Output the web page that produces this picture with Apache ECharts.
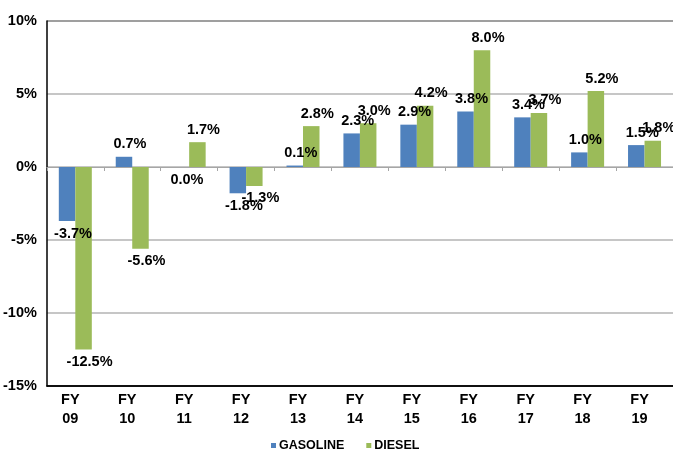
<!DOCTYPE html>
<html>
<head>
<meta charset="utf-8">
<script src="https://cdn.jsdelivr.net/npm/echarts@6/dist/echarts.min.js"></script>
<style>
  html, body { margin: 0; padding: 0; background: #fff; }
  #main { width: 673px; height: 459px; }
</style>
</head>
<body>
<div id="main"></div>
<script>
var years = ['FY\n09', 'FY\n10', 'FY\n11', 'FY\n12', 'FY\n13', 'FY\n14', 'FY\n15', 'FY\n16', 'FY\n17', 'FY\n18', 'FY\n19'];
var gasoline = [-3.7, 0.7, 0.0, -1.8, 0.1, 2.3, 2.9, 3.8, 3.4, 1.0, 1.5];
var diesel = [-12.5, -5.6, 1.7, -1.3, 2.8, 3.0, 4.2, 8.0, 3.7, 5.2, 1.8];
var yTicks = { min: -15, max: 10, step: 5 };

var FONT = '"Liberation Sans", Arial, sans-serif';

// label above positive bars, below negative (and the 0.0 one)
function withLabels(arr) {
  return arr.map(function (v) {
    return { value: v, label: { position: v <= 0 ? 'bottom' : 'top' } };
  });
}

var barLabel = {
  show: true,
  distance: 5,
  offset: [6, 0],
  fontFamily: FONT,
  fontWeight: 'bold',
  fontSize: 14.5,
  color: '#000',
  formatter: function (p) { return p.value.toFixed(1) + '%'; }
};

var option = {
  animation: false,
  grid: { left: 46, right: 0, top: 21, bottom: 73 },
  legend: {
    bottom: 2,
    left: 266,
    icon: 'rect',
    itemWidth: 5,
    itemHeight: 5,
    itemGap: 22,
    textStyle: { fontFamily: FONT, fontWeight: 'bold', fontSize: 12.5, color: '#000', padding: [0, 0, 0, -2] },
    data: ['GASOLINE', 'DIESEL']
  },
  xAxis: [
    {
      type: 'category',
      data: years,
      position: 'bottom',
      axisLine: { onZero: false, lineStyle: { color: '#000', width: 1.5 } },
      axisTick: { show: false },
      axisLabel: {
        fontFamily: FONT, fontWeight: 'bold', fontSize: 14.5, lineHeight: 19,
        color: '#000', margin: 4, padding: [0, 10, 0, 0]
      }
    },
    {
      type: 'category',
      data: years,
      position: 'bottom',
      axisLine: { onZero: true, onZeroAxisIndex: 0, lineStyle: { color: '#a6a6a6', width: 1 } },
      axisTick: { show: true, length: 4, lineStyle: { color: '#a6a6a6' } },
      axisLabel: { show: false },
      splitLine: { show: false }
    }
  ],
  yAxis: {
    type: 'value',
    min: yTicks.min,
    max: yTicks.max,
    interval: yTicks.step,
    axisLine: { show: true, lineStyle: { color: '#000', width: 1.5 } },
    axisTick: { show: false },
    axisLabel: {
      formatter: '{value}%',
      fontFamily: FONT, fontWeight: 'bold', fontSize: 14.5, color: '#000',
      margin: 10, padding: [0, 0, 6, 0]
    },
    splitLine: {
      lineStyle: { color: ['#000', '#b3b3b3', '#b3b3b3', '#b3b3b3', '#b3b3b3', '#7f7f7f'], width: 1.5 }
    }
  },
  series: [
    {
      name: 'GASOLINE',
      type: 'bar',
      data: withLabels(gasoline),
      barWidth: 16.5,
      barGap: '0%',
      itemStyle: { color: '#4f81bd' },
      label: barLabel
    },
    {
      name: 'DIESEL',
      type: 'bar',
      data: withLabels(diesel),
      barWidth: 16.5,
      barGap: '0%',
      itemStyle: { color: '#9bbb59' },
      label: barLabel
    }
  ]
};

var myChart = echarts.init(document.getElementById('main'));
myChart.setOption(option);
</script>
</body>
</html>
